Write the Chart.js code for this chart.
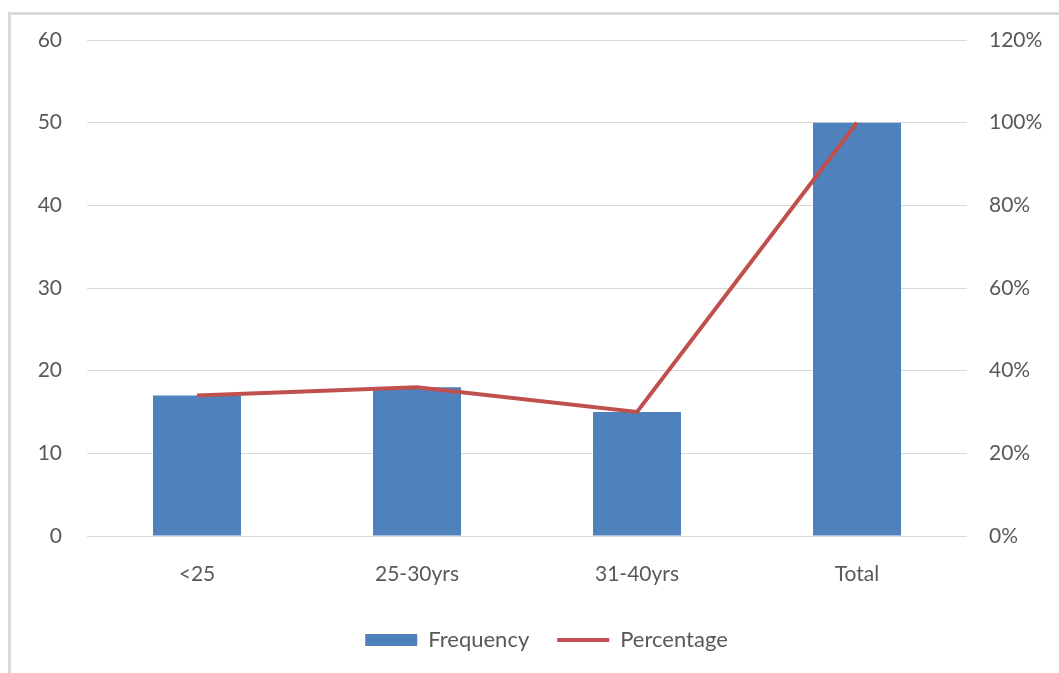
<!DOCTYPE html>
<html>
<head>
<meta charset="utf-8">
<script src="https://cdn.jsdelivr.net/npm/chart.js@4.4.1/dist/chart.umd.min.js"></script>
<style>
  html, body { margin: 0; padding: 0; background: #ffffff; }
  body { width: 1059px; height: 673px; position: relative; overflow: hidden; }
  #frame {
    position: absolute; left: 8px; top: 12px; width: 1100px; height: 700px;
    border-left: 3px solid #d9d9d9; border-top: 3px solid #d9d9d9;
  }
  #wrap { position: absolute; left: 0; top: 0; width: 1059px; height: 673px; }
</style>
</head>
<body>
<div id="frame"></div>
<div id="wrap"><canvas id="chart" width="1059" height="673"></canvas></div>
<script>
// Age groups and their counts / shares
const categories = ['<25', '25-30yrs', '31-40yrs', 'Total'];
const frequency = [17, 18, 15, 50];
const percentage = [34, 36, 30, 100];
const countTicks = [0, 10, 20, 30, 40, 50, 60];
const percentTicks = [0, 20, 40, 60, 80, 100, 120];

const textColor = '#595959';
const fontFamily = 'Lato, "Open Sans", sans-serif';
const fontSize = 21;

// nudges the legend row to the right, centring it on the framed panel
const legendShift = {
  id: 'legendShift',
  afterLayout(chart) {
    const lg = chart.legend;
    if (lg) { lg.left += 17; lg.right += 17; }
  }
};

new Chart(document.getElementById('chart'), {
  plugins: [legendShift],
  data: {
    labels: categories,
    datasets: [
      {
        type: 'line',
        label: 'Percentage',
        data: percentage,
        yAxisID: 'y1',
        borderColor: '#C0504D',
        backgroundColor: '#C0504D',
        borderWidth: 4,
        pointRadius: 0,
        tension: 0,
        order: 0
      },
      {
        type: 'bar',
        label: 'Frequency',
        data: frequency,
        yAxisID: 'y',
        backgroundColor: '#4F81BD',
        categoryPercentage: 0.8,
        barPercentage: 0.5,
        order: 1
      }
    ]
  },
  options: {
    responsive: false,
    animation: false,
    layout: { padding: { top: 40, left: 0, right: 0, bottom: 12 } },
    font: { family: fontFamily },
    plugins: {
      tooltip: { enabled: false },
      legend: {
        position: 'bottom',
        labels: {
          color: textColor,
          font: { family: fontFamily, size: 22 },
          usePointStyle: true,
          pointStyleWidth: 52,
          boxHeight: 12,
          padding: 28,
          sort: (a, b) => a.datasetIndex === 1 ? -1 : 1,
          generateLabels: (chart) => {
            const items = Chart.defaults.plugins.legend.labels.generateLabels(chart);
            items.forEach((it) => {
              const ds = chart.data.datasets[it.datasetIndex];
              if (ds.type === 'line') {
                it.pointStyle = 'line';
                it.lineWidth = 4;
                it.strokeStyle = ds.borderColor;
              } else {
                it.pointStyle = 'rect';
                it.lineWidth = 0;
                it.strokeStyle = ds.backgroundColor;
              }
            });
            return items;
          }
        }
      }
    },
    scales: {
      x: {
        offset: true,
        grid: { display: false, drawTicks: false },
        border: { display: false },
        ticks: { color: textColor, font: { family: fontFamily, size: fontSize }, padding: 26, maxRotation: 0 },
        afterFit: (s) => { s.height = 65; }
      },
      y: {
        position: 'left',
        min: 0, max: 60,
        afterBuildTicks: (s) => { s.ticks = countTicks.map(v => ({ value: v })); },
        grid: { color: '#d9d9d9', lineWidth: 1, drawTicks: false },
        border: { display: false },
        ticks: { color: textColor, font: { family: fontFamily, size: fontSize }, padding: 25 },
        afterFit: (s) => { s.width = 87; }
      },
      y1: {
        position: 'right',
        min: 0, max: 120,
        afterBuildTicks: (s) => { s.ticks = percentTicks.map(v => ({ value: v })); },
        grid: { display: false, drawTicks: false },
        border: { display: false },
        ticks: { color: textColor, font: { family: fontFamily, size: fontSize }, padding: 22,
                 callback: (v) => v + '%' },
        afterFit: (s) => { s.width = 92; }
      }
    }
  }
});
</script>
</body>
</html>
